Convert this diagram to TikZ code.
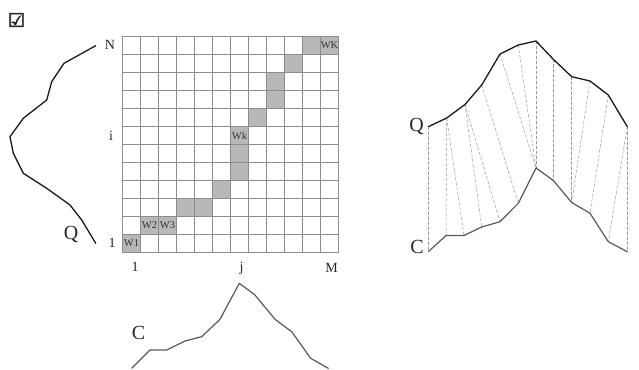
\documentclass[tikz,border=0pt]{standalone}
\usepackage{fontspec}
\setmainfont{Liberation Serif}
\newfontfamily\tickfont[FakeBold=3]{DejaVu Sans}
\tikzset{
  every picture/.style={line join=round, line cap=round},
  grid line/.style={draw=black!45, line width=0.6pt},
  path cell/.style={fill=black!28},
  qcurve/.style={line width=1.3pt, black!90},
  ccurve/.style={line width=1.2pt, black!65},
  warp/.style={draw=black!40, line width=0.5pt, dash pattern=on 3pt off 2pt},
  axis lbl/.style={font=\fontsize{14}{14}\selectfont, inner sep=0pt, text=black!85},
  curve lbl/.style={font=\fontsize{20}{20}\selectfont, inner sep=0pt, text=black!85},
  cell lbl/.style={font=\fontsize{10.5}{10.5}\selectfont, inner sep=0pt, text=black!80},
}
\begin{document}
\begin{tikzpicture}[x=1pt,y=-1pt]
\useasboundingbox (0,0) rectangle (639,369);
\node[font=\tickfont\fontsize{19}{19}\selectfont, inner sep=0pt, text=black!85] (tick) at (16.5,20) {☑};

% warping matrix
\begin{scope}[shift={(122.5,252.5)}, x=18pt, y=18pt]
\foreach \c/\r in {0/0,1/1,2/1,3/2,4/2,5/3,6/4,6/5,6/6,7/7,8/8,8/9,9/10,10/11,11/11}
  \fill[path cell] (\c,\r) rectangle ++(1,1);
\draw[grid line, step={(1,1)}] (0,0) grid (12,12);
\node[cell lbl] (w1) at (0.5,0.5) {W1};
\node[cell lbl] (w2) at (1.5,1.5) {W2};
\node[cell lbl] (w3) at (2.5,1.5) {W3};
\node[cell lbl] (wk) at (6.5,6.5) {Wk};
\node[cell lbl] (wK) at (11.5,11.5) {WK};
\end{scope}
\node[axis lbl] (rowN) at (110,45) {N};
\node[axis lbl] (rowi) at (111,136) {i};
\node[axis lbl] (row1) at (112,243) {1};
\node[axis lbl] (col1) at (135,267) {1};
\node[axis lbl] (colj) at (241.5,268) {j};
\node[axis lbl] (colM) at (331.5,268) {M};

% series along the axes
\draw[qcurve] plot coordinates {(95.7,45.7) (64,63.3) (51.7,81.7) (46.7,100) (23.3,118.3)
  (10,136.7) (13.3,153.3) (23.3,173.3) (46.7,188.3) (70,205) (81.7,220) (95.7,243.3)};
\node[curve lbl] (qleft) at (71,234) {Q};
\draw[ccurve] plot coordinates {(131.7,368.3) (150,350) (166.7,350) (185,341) (201.7,336.7)
  (220,319.3) (239.3,283.3) (255,295) (275,319.3) (291.7,331.7) (310.7,358.3) (328.3,368.3)};
\node[curve lbl] (cbottom) at (138.5,333) {C};

% aligned series
\foreach \x/\y [count=\k from 0] in {428.3/126.7,446.7/118,465/104.5,481.7/85,500/54,
  518.3/45,536/41,553.3/59.3,571.7/76.7,590/81,608.3/95,627.3/126.7}
  \coordinate (q\k) at (\x,\y);
\foreach \x/\y [count=\k from 0] in {428.3/251.7,446/235.5,464/235.5,481.7/227,500/221.7,
  518.3/203.3,536/168,553.3/180.5,571.7/202.5,590/213.3,608.3/241.7,627.3/251.7}
  \coordinate (c\k) at (\x,\y);
\foreach \a/\b in {0/0,1/1,1/2,2/3,2/4,3/5,4/6,5/6,6/6,7/7,8/8,9/8,10/9,11/10,11/11}
  \draw[warp] (q\a) -- (c\b);
\draw[qcurve] (q0) \foreach \k in {1,...,11}{ -- (q\k)};
\draw[ccurve] (c0) \foreach \k in {1,...,11}{ -- (c\k)};
\node[curve lbl] (qright) at (416.5,126) {Q};
\node[curve lbl] (cright) at (417,246.5) {C};
\end{tikzpicture}
\end{document}
